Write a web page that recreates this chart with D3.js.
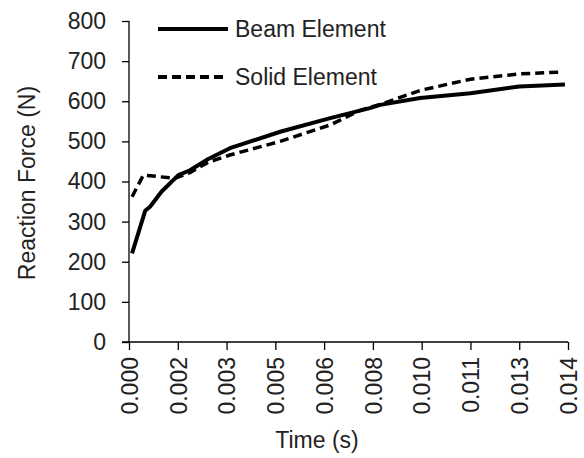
<html>
<head>
<script src="https://d3js.org/d3.v7.min.js"></script>
<style>
  body { margin: 0; background: #fff; }
  text { font-family: "Liberation Sans", Arial, sans-serif; fill: #222; }
</style>
</head>
<body>
<div id="chart"></div>
<script>
// data
var beamTime  = [0.0001, 0.00053, 0.00069, 0.00107, 0.00162, 0.0020, 0.0026, 0.00331, 0.00496, 0.0066, 0.0079, 0.00824, 0.00955, 0.0112, 0.0128, 0.0143];
var beamForce = [221, 327, 337, 375, 416, 428, 456, 483, 524, 558, 583, 591, 608, 620, 637, 642];
var solidTime  = [0.0001, 0.00047, 0.0015, 0.0020, 0.0026, 0.00331, 0.00496, 0.0066, 0.0076, 0.00824, 0.00955, 0.0112, 0.0128, 0.0142];
var solidForce = [362, 416, 408, 422, 448, 466, 500, 541, 578, 592, 627, 655, 668, 673];
var xTickValues = [0, 0.0016, 0.0032, 0.0048, 0.0064, 0.008, 0.0096, 0.0112, 0.0128, 0.0144];
var xTickLabels = ["0.000", "0.002", "0.003", "0.005", "0.006", "0.008", "0.010", "0.011", "0.013", "0.014"];
var yTickValues = [0, 100, 200, 300, 400, 500, 600, 700, 800];
var seriesNames = ["Beam Element", "Solid Element"];

var width = 584, height = 458;
var svg = d3.select("#chart").append("svg")
  .attr("width", width)
  .attr("height", height);

var x = d3.scaleLinear().domain([0, 0.0144]).range([129, 568]);
var y = d3.scaleLinear().domain([0, 800]).range([342, 21]);

// y axis
var yAxis = d3.axisLeft(y).tickValues(yTickValues).tickSize(7).tickPadding(16);
var gy = svg.append("g").attr("transform", "translate(129,0)").call(yAxis);
gy.selectAll("text").style("font-size", "23px").attr("fill", "#222");

// x axis
var xAxis = d3.axisBottom(x).tickValues(xTickValues).tickSize(8)
  .tickFormat(function(d, i){ return xTickLabels[i]; });
var gx = svg.append("g").attr("transform", "translate(0,342)").call(xAxis);
gx.selectAll("text")
  .style("font-size", "23px")
  .attr("fill", "#222")
  .attr("text-anchor", "end")
  .attr("transform", "rotate(-90)")
  .attr("x", -15)
  .attr("y", 0)
  .attr("dy", "0.36em");
svg.selectAll(".domain").attr("stroke", "#000").attr("stroke-width", 1.3).attr("d", null);
gy.select(".domain").attr("d", "M0,21V342");
gx.select(".domain").attr("d", "M122,0H568");
svg.selectAll(".tick line").attr("stroke", "#000").attr("stroke-width", 1.3);

// axis titles
svg.append("text")
  .attr("x", 317).attr("y", 448)
  .attr("text-anchor", "middle")
  .style("font-size", "23px")
  .text("Time (s)");
svg.append("text")
  .attr("transform", "translate(35,183) rotate(-90)")
  .attr("text-anchor", "middle")
  .style("font-size", "23px")
  .text("Reaction Force (N)");

// lines
var line = d3.line()
  .x(function(d){ return x(d[0]); })
  .y(function(d){ return y(d[1]); });

var beam = d3.zip(beamTime, beamForce);
var solid = d3.zip(solidTime, solidForce);

svg.append("path")
  .datum(solid)
  .attr("d", line)
  .attr("fill", "none")
  .attr("stroke", "#000")
  .attr("stroke-width", 3.5)
  .attr("stroke-dasharray", "9,5");

svg.append("path")
  .datum(beam)
  .attr("d", line)
  .attr("fill", "none")
  .attr("stroke", "#000")
  .attr("stroke-width", 4)
  .attr("stroke-linejoin", "round");

// legend
var legend = svg.append("g");
var legendY = [29, 77];
legend.selectAll("line")
  .data(seriesNames)
  .enter()
  .append("line")
  .attr("x1", 158).attr("x2", 228)
  .attr("y1", function(d, i){ return legendY[i]; })
  .attr("y2", function(d, i){ return legendY[i]; })
  .attr("stroke", "#000")
  .attr("stroke-width", 4)
  .attr("stroke-dasharray", function(d, i){ return i == 1 ? "9,5" : null; });
legend.selectAll("text")
  .data(seriesNames)
  .enter()
  .append("text")
  .attr("x", 235)
  .attr("y", function(d, i){ return legendY[i]; })
  .attr("dy", "0.36em")
  .style("font-size", "23px")
  .text(function(d){ return d; });
</script>
</body>
</html>
